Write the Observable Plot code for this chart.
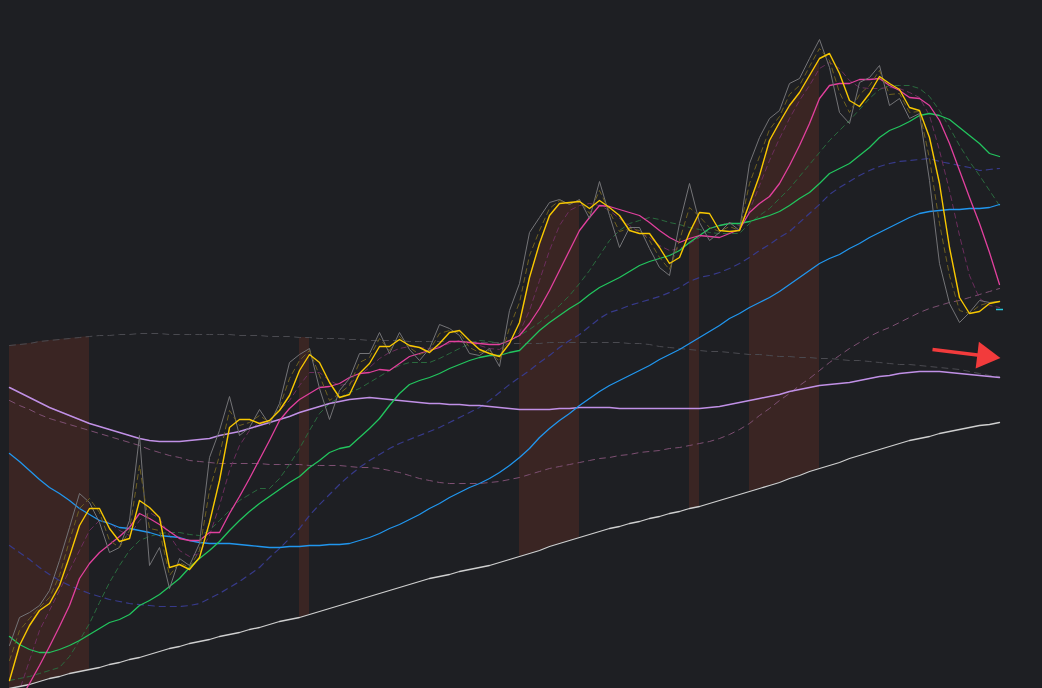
<!DOCTYPE html>
<html><head><meta charset="utf-8">
<script src="https://cdn.jsdelivr.net/npm/d3@7"></script>
<script src="https://cdn.jsdelivr.net/npm/@observablehq/plot@0.6"></script>
<style>html,body{margin:0;padding:0;background:#1e1f23;overflow:hidden}#chart svg{display:block}</style>
</head><body><div id="chart"></div>
<script>
// weekly bars, index 0..99
const price = [43,71,76,83,98,128,161,195,186,166,136,141,168,253,123,141,100,130,123,145,231,258,292,253,261,279,264,285,326,334,340,300,269,298,310,335,335,356,335,356,339,328,340,364,360,353,335,333,340,322,378,405,456,471,486,489,484,489,470,507,473,441,461,461,440,421,413,465,505,466,448,456,466,458,525,551,570,578,605,610,630,649,621,576,565,606,611,623,583,590,570,575,508,425,385,366,376,388,386,387];
const fastMA = [8,43,63,78,85,103,132,163,180,180,160,147,150,188,181,171,121,124,119,131,166,208,261,269,269,265,268,278,293,318,334,326,306,291,294,315,325,342,342,349,343,341,336,345,356,358,348,339,335,332,345,366,411,445,473,485,486,487,480,488,481,473,458,455,455,441,425,431,456,476,475,458,457,458,485,513,548,566,583,596,613,630,635,615,588,582,595,612,605,599,581,578,551,505,441,391,375,377,385,387];
const fastMADash = [28,58,70,81,91,113,148,180,190,176,148,141,158,223,160,158,113,126,121,138,198,233,278,263,266,273,266,281,310,328,338,313,288,295,303,326,331,350,338,352,341,334,338,355,358,356,341,336,338,327,361,386,433,458,480,488,485,488,475,498,477,457,460,458,448,431,419,448,481,472,461,457,462,458,505,532,559,572,594,603,622,640,628,596,576,594,603,618,594,595,576,577,530,465,413,378,375,383,386,387];
const midMA = [-32,-12,5,23,42,62,83,110,125,136,144,152,161,175,170,164,157,150,148,148,156,156,175,192,210,229,248,268,280,289,295,301,302,305,311,315,316,319,318,325,332,335,338,341,347,347,346,345,344,344,348,353,365,380,398,418,438,458,471,483,482,479,476,473,466,458,451,446,450,453,452,451,455,459,476,485,492,505,523,543,565,590,603,605,605,609,609,610,603,598,591,590,583,568,545,518,491,465,436,404];
const midMADash = [-32,-2,28,58,78,98,118,138,158,168,166,158,153,168,176,170,153,138,132,135,153,183,218,243,258,266,268,278,288,303,316,316,308,303,305,313,321,330,336,340,342,341,340,342,345,348,346,343,340,339,346,356,378,408,438,463,478,483,485,483,478,470,463,456,451,443,438,440,445,451,460,463,466,463,478,503,528,550,570,588,603,620,626,620,608,601,600,600,601,600,596,591,573,538,498,453,413,390,383,381];
const slowMA = [52,44,39,36,36,39,43,48,54,60,66,69,74,83,88,94,102,110,121,130,138,147,158,168,177,185,192,199,206,212,221,228,236,240,242,251,260,270,283,295,304,308,311,315,320,324,328,331,333,333,336,338,348,358,366,373,380,386,394,401,406,411,417,423,427,430,433,438,446,453,460,463,465,465,467,470,473,477,483,490,496,505,515,520,525,533,541,551,558,562,567,573,575,573,569,561,553,545,535,532];
const slowMADash = [8,10,12,15,18,21,32,48,65,86,106,123,138,148,152,155,156,156,154,153,158,168,178,188,194,200,200,210,224,240,258,275,285,291,296,300,306,312,318,323,326,326,326,330,335,340,345,348,347,345,348,353,359,366,374,383,393,405,418,433,448,458,465,468,471,469,466,464,461,459,456,455,455,455,465,473,480,490,500,512,524,536,548,558,568,579,590,599,603,603,603,600,592,578,561,543,527,513,498,483];
const longMA = [235,227,218,209,201,195,188,180,174,168,165,161,160,158,156,153,152,151,148,146,145,145,145,144,143,142,141,141,142,142,143,143,144,144,145,148,151,155,160,164,169,174,180,185,191,196,201,205,210,216,223,231,240,251,260,268,275,283,290,297,303,308,313,318,323,329,334,339,345,351,357,363,370,375,381,386,391,397,404,411,418,425,430,434,440,445,451,456,461,466,471,475,477,478,479,479,480,480,481,484];
const longMADash = [143,136,129,121,114,108,103,99,95,92,89,87,85,84,83,82,82,82,83,85,90,95,101,107,114,121,131,140,150,160,173,184,194,204,213,221,228,234,240,245,249,253,257,261,266,271,276,281,288,296,304,311,318,326,333,341,348,354,362,370,376,379,383,386,389,392,396,401,407,411,413,416,420,425,431,438,444,451,457,466,475,484,494,501,507,513,518,522,525,527,528,529,530,527,525,523,521,518,519,520];
const trendLine = [301,296,291,286,281,277,273,269,265,262,259,256,253,250,248,247,247,247,248,249,250,253,255,257,260,263,266,269,272,276,279,282,285,287,289,290,291,290,289,288,287,286,285,285,284,284,283,283,282,281,280,279,279,279,279,280,280,281,281,281,281,280,280,280,280,280,280,280,280,280,281,282,284,286,288,290,292,294,297,299,301,303,304,305,306,308,310,312,313,315,316,317,317,317,316,315,314,313,312,311];
const trendLineDash = [288,283,279,274,270,267,264,261,258,255,252,249,246,243,239,236,233,231,228,227,226,225,225,225,225,225,224,224,224,224,223,223,223,223,222,221,221,220,218,216,213,210,208,206,205,205,205,205,206,207,209,211,214,217,220,222,224,226,228,230,231,233,234,236,237,238,240,241,243,245,247,250,254,259,265,273,280,288,295,303,310,318,326,333,340,346,352,357,361,366,371,376,380,383,386,388,391,394,397,400];
const capLineDash = [343,344,345,347,348,349,350,351,352,353,353,354,354,355,355,355,354,354,354,354,354,354,354,353,353,353,352,352,352,351,351,350,350,350,349,349,348,348,348,348,347,347,347,347,347,347,347,346,346,346,345,345,345,345,346,346,346,346,346,346,346,346,345,345,344,342,341,340,339,338,337,337,336,335,334,334,333,332,332,331,331,330,330,329,328,328,327,326,325,324,324,323,322,321,320,319,317,315,313,312];
const baseLine = [0,2,4,7,10,12,15,17,19,21,24,26,29,31,34,37,40,42,45,47,49,52,54,56,59,61,64,67,69,71,74,77,80,83,86,89,92,95,98,101,104,107,110,112,114,117,119,121,123,126,129,132,135,138,142,145,148,151,154,157,160,162,165,167,170,172,175,177,180,182,185,188,191,194,197,200,203,206,210,213,217,220,223,226,230,233,236,239,242,245,248,250,252,255,257,259,261,263,264,266];
// shaded periods: [first week, last week]
const bandRanges = [[0,8],[29,30],[51,57],[68,69],[74,81]];
// annotation arrow (shaft start/end, head centre) and last-value tick
const arrowAnn = [{k1: 92.3, v1: 339, k2: 97.2, v2: 333, hk: 97.55, hv: 332.4}];
const lastTick = [{k1: 98.7, k2: 99.4, v: 379}];

const rows = price.map((p, k) => ({
  k, price: p, fastMA: fastMA[k], fastMADash: fastMADash[k], midMA: midMA[k], midMADash: midMADash[k],
  slowMA: slowMA[k], slowMADash: slowMADash[k], longMA: longMA[k], longMADash: longMADash[k],
  trendLine: trendLine[k], trendLineDash: trendLineDash[k], capLineDash: capLineDash[k], baseLine: baseLine[k]
}));
const bandRows = [];
bandRanges.forEach(([a, b], i) => {
  for (let k = a; k <= b; k++) {
    const r = rows[k];
    bandRows.push({k, band: i, lo: r.baseLine, hi: Math.max(r.fastMA, r.capLineDash)});
  }
});

const ln = (key, stroke, w, dash) => Plot.lineY(rows, {x: "k", y: key, stroke, strokeWidth: w, strokeDasharray: dash, clip: true});

const chart = Plot.plot({
  width: 1042, height: 688, margin: 0,
  style: {background: "#1e1f23"},
  x: {domain: [-0.9, 103.3], axis: null},
  y: {domain: [0, 688], axis: null},
  marks: [
    Plot.areaY(bandRows, {x: "k", y1: "lo", y2: "hi", z: "band", fill: "#3a2523", clip: true}),
    ln("capLineDash", "#4a4a50", 1, "6,5"),
    ln("trendLineDash", "#7d4f72", 1, "6,5"),
    ln("longMADash", "#373a8a", 1.2, "6,5"),
    ln("slowMADash", "#2a6a3e", 1, "5,4"),
    ln("midMADash", "#6b2d5c", 1, "5,4"),
    ln("baseLine", "#cfcfcf", 1.3),
    ln("trendLine", "#c090e6", 1.5),
    ln("longMA", "#2196ee", 1.3),
    ln("slowMA", "#22c55e", 1.3),
    ln("midMA", "#e2409e", 1.3),
    ln("price", "#737376", 1),
    ln("fastMADash", "#6e6020", 1, "5,4"),
    ln("fastMA", "#f8c800", 1.4),
    Plot.ruleY(lastTick, {x1: "k1", x2: "k2", y: "v", stroke: "#26c6da", strokeWidth: 1.5}),
    Plot.link(arrowAnn, {x1: "k1", y1: "v1", x2: "k2", y2: "v2", stroke: "#f23b3c", strokeWidth: 3.5, strokeLinecap: "butt"}),
    Plot.dot(arrowAnn, {x: "hk", y: "hv", symbol: "triangle", r: 10, fill: "#f23b3c", stroke: "none", rotate: 97})
  ]
});
document.getElementById("chart").append(chart);
</script></body></html>
